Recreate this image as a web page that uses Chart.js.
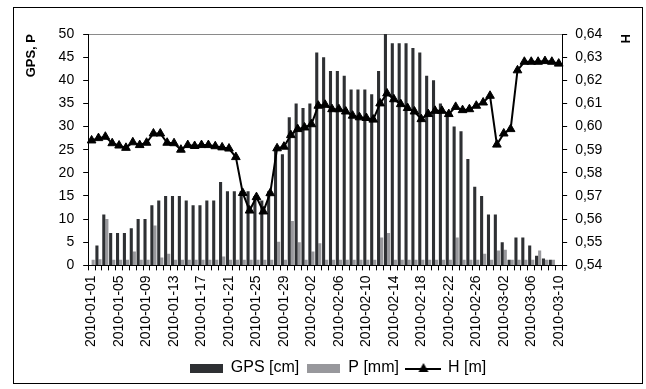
<!DOCTYPE html>
<html>
<head>
<meta charset="utf-8">
<script src="https://cdn.jsdelivr.net/npm/chart.js@4/dist/chart.umd.min.js"></script>
<style>
  html, body { margin: 0; padding: 0; background: #fff; }
  #wrap { width: 646px; height: 389px; position: relative; }
</style>
</head>
<body>
<div id="wrap"><canvas id="chart"></canvas></div>
<script>
// categories: one per day
const dates = [
  "2010-01-01","2010-01-02","2010-01-03","2010-01-04","2010-01-05","2010-01-06","2010-01-07","2010-01-08",
  "2010-01-09","2010-01-10","2010-01-11","2010-01-12","2010-01-13","2010-01-14","2010-01-15","2010-01-16",
  "2010-01-17","2010-01-18","2010-01-19","2010-01-20","2010-01-21","2010-01-22","2010-01-23","2010-01-24",
  "2010-01-25","2010-01-26","2010-01-27","2010-01-28","2010-01-29","2010-01-30","2010-01-31","2010-02-01",
  "2010-02-02","2010-02-03","2010-02-04","2010-02-05","2010-02-06","2010-02-07","2010-02-08","2010-02-09",
  "2010-02-10","2010-02-11","2010-02-12","2010-02-13","2010-02-14","2010-02-15","2010-02-16","2010-02-17",
  "2010-02-18","2010-02-19","2010-02-20","2010-02-21","2010-02-22","2010-02-23","2010-02-24","2010-02-25",
  "2010-02-26","2010-02-27","2010-02-28","2010-03-01","2010-03-02","2010-03-03","2010-03-04","2010-03-05",
  "2010-03-06","2010-03-07","2010-03-08","2010-03-09","2010-03-10"
];

// GPS [cm]
const gps = [
  0, 4.3, 11, 7, 7, 7, 8, 10,
  10, 13, 14, 15, 15, 15, 14, 13,
  13, 14, 14, 18, 16, 16, 16, 16,
  15, 14, 16, 25, 24, 32, 35, 34,
  35, 46, 45, 42, 42, 41, 38, 38,
  38, 37, 42, 50, 48, 48, 48, 47,
  46, 41, 40, 35, 33, 30, 29, 23,
  17, 15, 11, 11, 5, 1.2, 6, 6,
  4.3, 2.1, 1.5, 1.2, 0
];

// P [mm]
const precip = [
  1.2, 1.3, 10, 1.2, 1.2, 1.2, 3, 1.2,
  1.2, 8.6, 1.7, 2.5, 1.2, 1.2, 1.2, 1.2,
  1.2, 1.2, 1.2, 1.9, 1.2, 1.2, 1.2, 1.2,
  1.2, 1.2, 1.2, 5.1, 1.2, 9.6, 5, 1.2,
  3, 4.8, 1.2, 1.2, 1.2, 1.2, 1.2, 1.2,
  1.2, 1.2, 6, 7, 1.2, 1.2, 1.2, 1.2,
  1.2, 1.2, 1.2, 1.2, 1.2, 6, 1.2, 1.2,
  1.2, 2.5, 1.2, 3.2, 3.4, 1.2, 1.2, 1.2,
  1.2, 3.2, 1.2, 1.2, 0
];

// H [m]
const level = [
  0.594, 0.595, 0.5956, 0.5928, 0.5918, 0.5908, 0.5932, 0.592,
  0.593, 0.597, 0.597, 0.593, 0.5928, 0.590, 0.592, 0.5916,
  0.592, 0.592, 0.5915, 0.591, 0.5905, 0.5868, 0.5713, 0.5637,
  0.5695, 0.5633, 0.5712, 0.5906, 0.5913, 0.5963, 0.5989, 0.5996,
  0.601, 0.609, 0.6094, 0.6075, 0.6075, 0.6065, 0.6047, 0.604,
  0.6037, 0.603, 0.610, 0.6143, 0.6118, 0.6097, 0.608, 0.6065,
  0.6032, 0.6054, 0.6068, 0.6068, 0.6054, 0.6085, 0.6071, 0.6075,
  0.609, 0.6104, 0.6133, 0.5922, 0.597, 0.5989, 0.6243, 0.628,
  0.628, 0.628, 0.6283, 0.628, 0.6272
];

const seriesNames = ["GPS [cm]", "P [mm]", "H [m]"];
const gpsColor = "#2e3033";
const precipColor = "#98989c";

// legend swatches
function swatch(color) {
  const c = document.createElement("canvas");
  c.width = 33; c.height = 9;
  const g = c.getContext("2d");
  g.fillStyle = color;
  g.fillRect(0, 0, 33, 9);
  return c;
}
function lineSwatch() {
  const c = document.createElement("canvas");
  c.width = 36; c.height = 12;
  const g = c.getContext("2d");
  g.strokeStyle = "#000"; g.lineWidth = 2;
  g.beginPath(); g.moveTo(0, 7); g.lineTo(36, 7); g.stroke();
  g.fillStyle = "#000";
  g.beginPath(); g.moveTo(18, 1); g.lineTo(23, 10); g.lineTo(13, 10); g.closePath(); g.fill();
  return c;
}

const frame = {
  id: "frame",
  beforeDraw(chart) {
    const ctx = chart.ctx;
    ctx.save();
    ctx.fillStyle = "#fff";
    ctx.fillRect(0, 0, chart.width, chart.height);
    ctx.strokeStyle = "#000";
    ctx.lineWidth = 1;
    ctx.strokeRect(13.5, 7.5, 629, 376);
    ctx.restore();
  },
  afterLayout(chart) {
    // Excel centres the legend a bit right of the canvas middle
    chart.legend.left += 10;
    chart.legend.right += 10;
  }
};

Chart.defaults.font.family = "'Liberation Sans', Arial, sans-serif";
Chart.defaults.color = "#000";

new Chart(document.getElementById("chart"), {
  type: "bar",
  data: {
    labels: dates,
    datasets: [
      {
        type: "line",
        label: seriesNames[2],
        data: level,
        yAxisID: "y1",
        borderColor: "#000",
        borderWidth: 2,
        pointStyle: "triangle",
        pointRadius: 5,
        pointBackgroundColor: "#000",
        pointBorderColor: "#000",
        pointBorderWidth: 1,
        tension: 0,
        order: 0
      },
      {
        label: seriesNames[0],
        data: gps,
        yAxisID: "y",
        backgroundColor: gpsColor,
        categoryPercentage: 0.9,
        barPercentage: 1,
        order: 1
      },
      {
        label: seriesNames[1],
        data: precip,
        yAxisID: "y",
        backgroundColor: precipColor,
        categoryPercentage: 0.9,
        barPercentage: 1,
        order: 1
      }
    ]
  },
  options: {
    responsive: true,
    maintainAspectRatio: false,
    animation: false,
    layout: { padding: { left: 24, right: 14, top: 34, bottom: 3 } },
    plugins: {
      tooltip: { enabled: false },
      legend: {
        position: "bottom",
        labels: {
          usePointStyle: true,
          pointStyleWidth: 33,
          boxHeight: 9,
          padding: 8,
          font: { size: 16 },
          color: "#000",
          generateLabels: () => [
            { text: seriesNames[0], pointStyle: swatch(gpsColor), fillStyle: gpsColor, lineWidth: 0, hidden: false, datasetIndex: 1 },
            { text: seriesNames[1], pointStyle: swatch(precipColor), fillStyle: precipColor, lineWidth: 0, hidden: false, datasetIndex: 2 },
            { text: seriesNames[2], pointStyle: lineSwatch(), fillStyle: "#000", lineWidth: 0, hidden: false, datasetIndex: 0 }
          ]
        }
      }
    },
    scales: {
      x: {
        offset: true,
        grid: { offset: true, drawOnChartArea: false, tickLength: 5, color: "#000" },
        border: { color: "#000" },
        ticks: {
          autoSkip: false,
          maxRotation: 90,
          minRotation: 90,
          padding: 5,
          font: { size: 14 },
          callback: (v, i) => (i % 4 === 0 ? dates[i] : "")
        }
      },
      y: {
        position: "left",
        min: 0,
        max: 50,
        ticks: { stepSize: 5, padding: 9, font: { size: 14 } },
        grid: {
          color: (c) => (c.tick && c.tick.value === 50 ? "#8a8a8a" : "rgba(0,0,0,0)"),
          tickColor: "#000",
          tickLength: 5
        },
        border: { color: "#000" },
        title: {
          display: true,
          text: "GPS, P",
          align: "end",
          font: { size: 13, weight: "bold" },
          padding: { top: 0, bottom: 10 }
        }
      },
      y1: {
        position: "right",
        min: 0.54,
        max: 0.64,
        ticks: {
          stepSize: 0.01,
          padding: 8,
          font: { size: 14 },
          callback: (v) => v.toFixed(2).replace(".", ",")
        },
        grid: { drawOnChartArea: false, tickColor: "#000", tickLength: 5 },
        border: { color: "#000" },
        title: {
          display: true,
          text: "H",
          align: "end",
          font: { size: 13, weight: "bold" },
          padding: { top: 0, bottom: 6 }
        }
      }
    }
  },
  plugins: [frame]
});
</script>
</body>
</html>
